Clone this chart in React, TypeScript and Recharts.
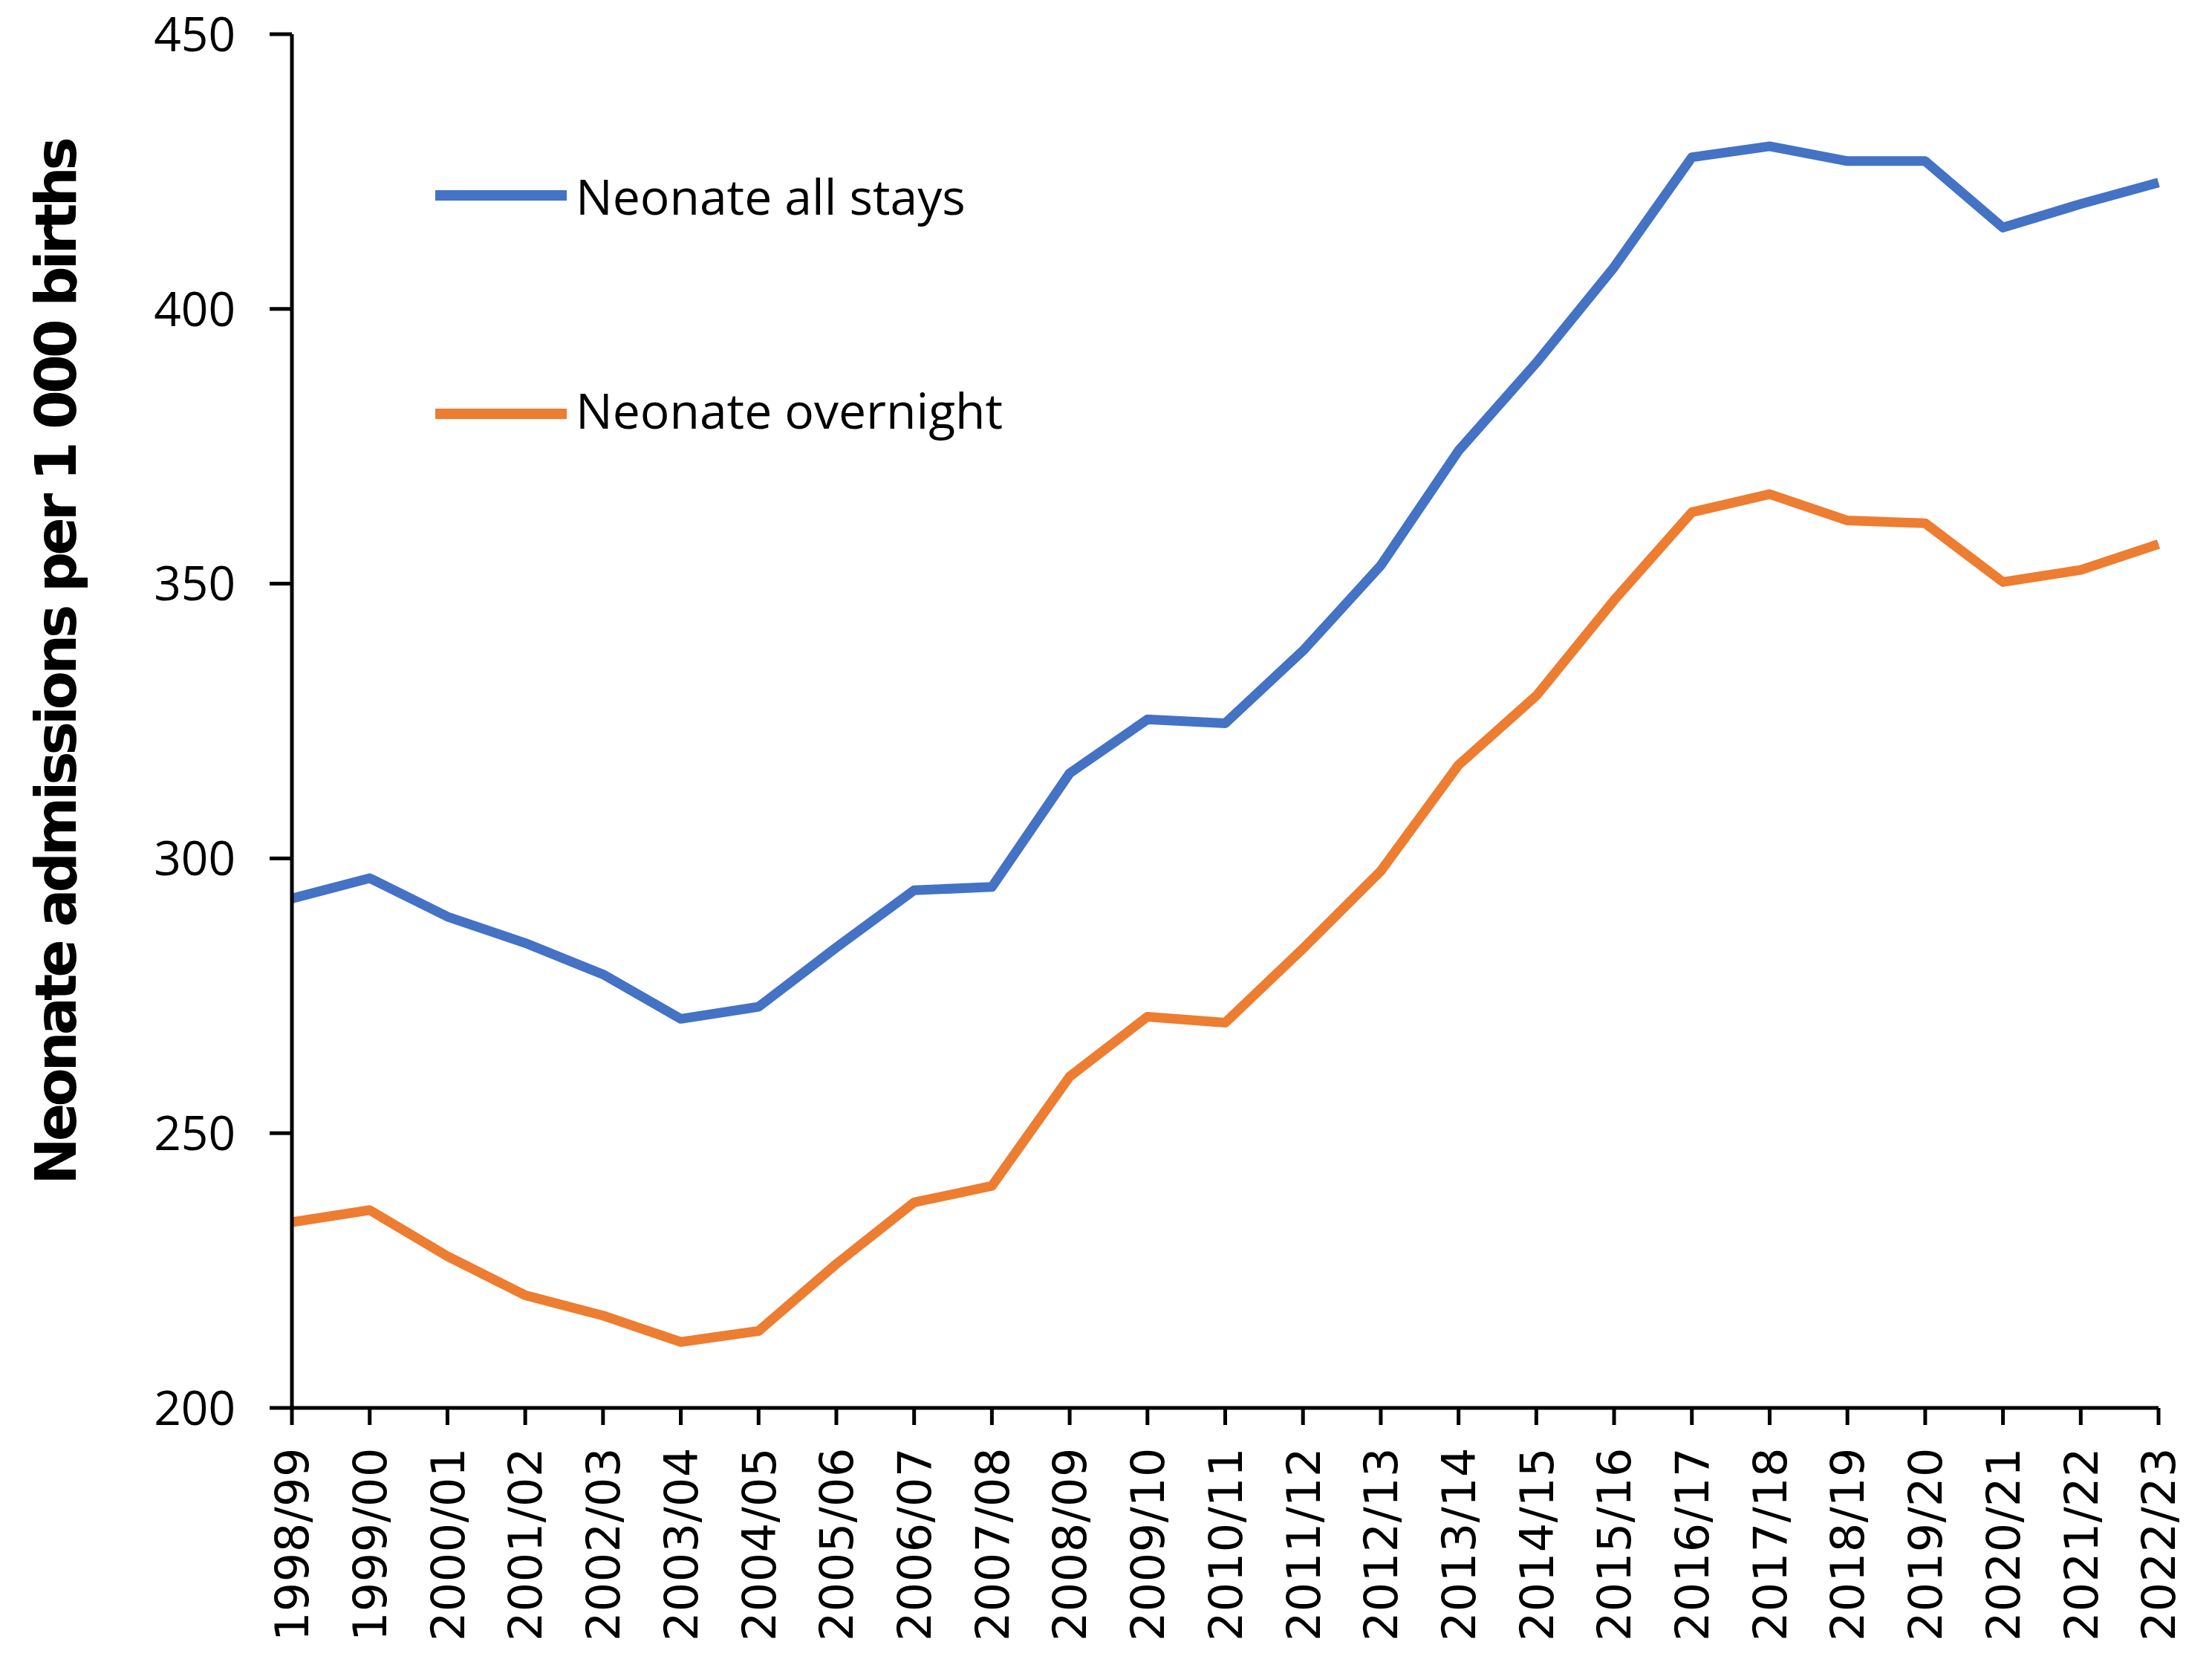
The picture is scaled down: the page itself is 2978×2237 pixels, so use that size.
import React from "react";
import { LineChart, Line, XAxis, YAxis, Label } from "recharts";

const years = [
  "1998/99", "1999/00", "2000/01", "2001/02", "2002/03", "2003/04", "2004/05",
  "2005/06", "2006/07", "2007/08", "2008/09", "2009/10", "2010/11", "2011/12",
  "2012/13", "2013/14", "2014/15", "2015/16", "2016/17", "2017/18", "2018/19",
  "2019/20", "2020/21", "2021/22", "2022/23",
];

const allStays = [
  292.7, 296.4, 289.4, 284.6, 278.9, 270.8, 273.0, 283.8, 294.2, 294.8, 315.5,
  325.3, 324.6, 337.8, 353.3, 374.2, 390.2, 407.6, 427.6, 429.6, 426.9, 426.9,
  414.8, 419.1, 423.0,
];

const overnight = [
  233.8, 236.0, 227.6, 220.5, 216.8, 212.0, 214.0, 226.2, 237.4, 240.4, 260.3,
  271.2, 270.1, 283.6, 297.7, 317.0, 329.6, 347.0, 363.0, 366.3, 361.5, 361.0,
  350.3, 352.5, 357.2,
];

const yTicks = [200, 250, 300, 350, 400, 450];

const seriesNames = ["Neonate all stays", "Neonate overnight"];
const seriesColors = ["#4472C4", "#ED7D31"];

const data = years.map((year, i) => ({
  year,
  allStays: allStays[i],
  overnight: overnight[i],
}));

const XTick = (props: any) => {
  const { x, y, payload } = props;
  return (
    <text
      transform={`translate(${x}, ${y}) rotate(-90)`}
      textAnchor="end"
      dy="0.36em"
      fontFamily="DejaVu Sans"
      fontSize={62}
      letterSpacing={0.5}
      fill="#000"
    >
      {payload.value}
    </text>
  );
};

const yLabel = () => (
  <text
    transform="translate(102, 892) rotate(-90)"
    textAnchor="middle"
    fontFamily="DejaVu Sans"
    fontWeight="bold"
    fontSize={76}
    letterSpacing={-5}
    fill="#000"
  >
    Neonate admissions per 1 000 births
  </text>
);

export default function App() {
  return (
    <div style={{ position: "absolute", left: 0, top: 0, width: 2978, height: 2237, background: "#fff" }}>
      <LineChart
        width={2978}
        height={2237}
        data={data}
        margin={{ top: 46, right: 72, left: 93, bottom: 0 }}
      >
        <XAxis
          dataKey="year"
          interval={0}
          height={342}
          tick={<XTick />}
          tickSize={23}
          tickMargin={30}
          axisLine={{ stroke: "#000", strokeWidth: 5 }}
          tickLine={{ stroke: "#000", strokeWidth: 5 }}
        />
        <YAxis
          width={300}
          domain={[200, 450]}
          ticks={yTicks}
          interval={0}
          tickSize={30}
          tickMargin={46}
          tick={{ fill: "#000", fontSize: 64, fontFamily: "Open Sans" }}
          axisLine={{ stroke: "#000", strokeWidth: 5 }}
          tickLine={{ stroke: "#000", strokeWidth: 5 }}
        >
          <Label content={yLabel} />
        </YAxis>
        <Line
          type="linear"
          dataKey="allStays"
          name={seriesNames[0]}
          stroke={seriesColors[0]}
          strokeWidth={13}
          strokeLinejoin="round"
          dot={false}
          isAnimationActive={false}
        />
        <Line
          type="linear"
          dataKey="overnight"
          name={seriesNames[1]}
          stroke={seriesColors[1]}
          strokeWidth={13}
          strokeLinejoin="round"
          dot={false}
          isAnimationActive={false}
        />
      </LineChart>
      {/* legend sits inside the plot, Excel style */}
      <svg width={2978} height={2237} style={{ position: "absolute", left: 0, top: 0, pointerEvents: "none" }}>
        {seriesNames.map((name, i) => {
          const ly = i === 0 ? 263 : 557;
          return (
            <g key={name}>
              <line x1={586} x2={763} y1={ly} y2={ly} stroke={seriesColors[i]} strokeWidth={14} />
              <text x={775} y={ly + (i === 0 ? 26 : 20)} fontFamily="Open Sans" fontSize={66} fill="#000">
                {name}
              </text>
            </g>
          );
        })}
      </svg>
    </div>
  );
}
